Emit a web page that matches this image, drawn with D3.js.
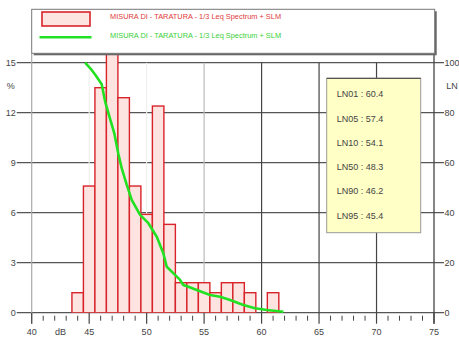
<!DOCTYPE html>
<html>
<head>
<meta charset="utf-8">
<script src="https://cdn.jsdelivr.net/npm/d3@7"></script>
<style>
    html, body { margin: 0; padding: 0; background: #fff; }
    svg { display: block; font-family: 'Liberation Sans', Arial, sans-serif; }
    .lbl { fill: #444; font-size: 9px; }
</style>
</head>
<body>
<div id="chart"></div>
<script>
// Histogram of level classes (1 dB wide, centred on the value)
var binCenters = [44, 45, 46, 47, 48, 49, 50, 51, 52, 53, 54, 55, 56, 57, 58, 59, 60, 61];
var binPercent = [1.2, 7.6, 13.5, 21.2, 12.9, 7.6, 5.9, 12.4, 5.3, 1.8, 1.8, 1.8, 1.2, 1.8, 1.8, 1.2, 0, 1.2];

// Cumulative curve (percent of time level is exceeded)
var curveDb = [44.64, 45.22, 45.62, 46.09, 46.4, 46.85, 47.2, 47.54, 47.83, 48.27, 48.56, 48.7,
               49.43, 50.15, 50.88, 51.45, 51.75, 52.04, 52.47, 52.91, 53.19, 53.63, 54.36,
               55.52, 56.39, 57.26, 58.42, 59.43, 60.45, 61.9];
var curveLn = [100, 97.1, 94.6, 91.4, 84.2, 77, 71.5, 63.5, 57.8, 51.1, 47.1, 45.1,
               39.1, 35.8, 30.4, 23.8, 18.4, 17.1, 15.1, 13.1, 11.1, 10.4, 9.1,
               7.1, 6.4, 5.1, 3.1, 1.8, 1.1, 0.4];

// Statistical levels
var statLabels = ['LN01', 'LN05', 'LN10', 'LN50', 'LN90', 'LN95'];
var statValues = [60.4, 57.4, 54.1, 48.3, 46.2, 45.4];

// Ticks
var xTicks     = [40, 45, 50, 55, 60, 65, 70, 75];
var leftTicks  = [0, 3, 6, 9, 12, 15];
var rightTicks = [0, 20, 40, 60, 80, 100];

var legendLabels = [
    'MISURA DI - TARATURA - 1/3 Leq Spectrum + SLM',
    'MISURA DI - TARATURA - 1/3 Leq Spectrum + SLM'
];

var W = 459, H = 342,
    margin = { top: 62.7, right: 25, bottom: 29.3, left: 31.7 },
    width  = W - margin.left - margin.right,
    height = H - margin.top - margin.bottom;

var x  = d3.scaleLinear().domain([40, 75]).range([0, width]),
    y  = d3.scaleLinear().domain([0, 15]).range([height, 0]),
    y2 = d3.scaleLinear().domain([0, 100]).range([height, 0]);

var svg = d3.select('#chart')
    .append('svg')
        .attr('width', W)
        .attr('height', H);

var chart = svg.append('g')
    .attr('transform', 'translate(' + margin.left + ',' + margin.top + ')');

// clip area reaches up to the legend box
chart.append('clipPath')
    .attr('id', 'plotclip')
  .append('rect')
    .attr('x', 0)
    .attr('y', -9.5)
    .attr('width', width)
    .attr('height', height + 9.5);

/*
 * GRID
 */
chart.selectAll('.hgrid')
    .data(leftTicks)
  .enter().append('line')
    .attr('class', 'hgrid')
    .attr('x1', -15)
    .attr('x2', width + 10)
    .attr('y1', function (d) { return y(d); })
    .attr('y2', function (d) { return y(d); })
    .attr('stroke', '#555')
    .attr('stroke-width', 1.3);

chart.selectAll('.vgrid')
    .data(xTicks.filter(function (d) { return d > 40 && d < 75; }))
  .enter().append('line')
    .attr('class', 'vgrid')
    .attr('x1', function (d) { return x(d); })
    .attr('x2', function (d) { return x(d); })
    .attr('y1', 0)
    .attr('y2', height)
    .attr('stroke', function (d) { return d < 55 ? '#f0f0f0' : (d === 55 ? '#bbb' : '#444'); })
    .attr('stroke-width', 1.2);

// axis verticals (run up to the legend box)
chart.append('line')
    .attr('x1', 0).attr('x2', 0)
    .attr('y1', -9.5).attr('y2', height + 11)
    .attr('stroke', '#aaa')
    .attr('stroke-width', 1.2);

chart.append('line')
    .attr('x1', width).attr('x2', width)
    .attr('y1', -9.5).attr('y2', height + 11)
    .attr('stroke', '#444')
    .attr('stroke-width', 1.3);

/*
 * BARS
 */
chart.append('g')
    .attr('clip-path', 'url(#plotclip)')
    .selectAll('.bar')
    .data(binCenters.map(function (c, i) { return { c: c, v: binPercent[i] }; })
                    .filter(function (d) { return d.v > 0; }))
  .enter().append('rect')
    .attr('class', 'bar')
    .attr('x', function (d) { return x(d.c - 0.5); })
    .attr('y', function (d) { return y(d.v); })
    .attr('width', function (d) { return x(d.c + 0.5) - x(d.c - 0.5); })
    .attr('height', function (d) { return height - y(d.v); })
    .attr('fill', '#fde4e0')
    .attr('stroke', '#d8232a')
    .attr('stroke-width', 1.4);

// CUMULATIVE CURVE
var line = d3.line()
    .x(function (d) { return x(d[0]); })
    .y(function (d) { return y2(d[1]); });

chart.append('path')
    .attr('d', line(curveDb.map(function (d, i) { return [d, curveLn[i]]; })))
    .attr('fill', 'none')
    .attr('stroke', '#22e022')
    .attr('stroke-width', 2.6)
    .attr('stroke-linejoin', 'round');

/*
 * X AXIS TICKS
 */
var minorTicks = d3.range(41, 75).filter(function (d) { return d % 5 !== 0; });

chart.selectAll('.minor')
    .data(minorTicks)
  .enter().append('line')
    .attr('x1', function (d) { return x(d); })
    .attr('x2', function (d) { return x(d); })
    .attr('y1', height + 3)
    .attr('y2', height + 8)
    .attr('stroke', '#444')
    .attr('stroke-width', 1);

chart.selectAll('.major')
    .data(xTicks)
  .enter().append('line')
    .attr('x1', function (d) { return x(d); })
    .attr('x2', function (d) { return x(d); })
    .attr('y1', height)
    .attr('y2', height + 11)
    .attr('stroke', '#444')
    .attr('stroke-width', 1.2);

chart.selectAll('.xlab')
    .data(xTicks)
  .enter().append('text')
    .attr('class', 'lbl')
    .attr('x', function (d) { return x(d); })
    .attr('y', height + 22)
    .attr('text-anchor', 'middle')
    .text(function (d) { return d; });

chart.append('text')
    .attr('class', 'lbl')
    .attr('x', x(42.5))
    .attr('y', height + 22)
    .attr('text-anchor', 'middle')
    .text('dB');

// Y LABELS
chart.selectAll('.ylab')
    .data(leftTicks)
  .enter().append('text')
    .attr('class', 'lbl')
    .attr('x', -16)
    .attr('y', function (d) { return y(d) + 3; })
    .attr('text-anchor', 'end')
    .text(function (d) { return d; });

chart.append('text')
    .attr('class', 'lbl')
    .attr('x', -21)
    .attr('y', y(13.6) + 3)
    .attr('text-anchor', 'middle')
    .text('%');

chart.selectAll('.y2lab')
    .data(rightTicks)
  .enter().append('text')
    .attr('class', 'lbl')
    .attr('x', width + 10.5)
    .attr('y', function (d) { return y2(d) + 3; })
    .attr('font-size', '8px')
    .text(function (d) { return d; });

chart.append('text')
    .attr('class', 'lbl')
    .attr('x', width + 18)
    .attr('y', y(13.6) + 3)
    .attr('text-anchor', 'middle')
    .text('LN');

/*
 * STATS BOX
 */
var box = chart.append('g')
    .attr('transform', 'translate(' + (326.7 - margin.left) + ',' + (78.3 - margin.top) + ')');

box.append('rect')
    .attr('width', 94)
    .attr('height', 154.4)
    .attr('fill', '#ffffc6')
    .attr('stroke', '#999')
    .attr('stroke-width', 1);

box.append('line')
    .attr('x1', 0).attr('x2', 94)
    .attr('y1', 0).attr('y2', 0)
    .attr('stroke', '#555')
    .attr('stroke-width', 1.3);

box.selectAll('.stat')
    .data(statLabels)
  .enter().append('text')
    .attr('class', 'lbl')
    .attr('x', 10)
    .attr('y', function (d, i) { return 19 + i * 24.3; })
    .text(function (d, i) { return d + ' : ' + statValues[i].toFixed(1); });

/*
 * LEGEND
 */
var legend = svg.append('g');

legend.append('rect')
    .attr('x', 33.7).attr('y', 11.3)
    .attr('width', 403).attr('height', 44)
    .attr('fill', '#666');

legend.append('rect')
    .attr('x', 31.7).attr('y', 9.3)
    .attr('width', 403).attr('height', 44)
    .attr('fill', '#fff')
    .attr('stroke', '#777')
    .attr('stroke-width', 1);

legend.append('rect')
    .attr('x', 42).attr('y', 12)
    .attr('width', 48).attr('height', 14)
    .attr('fill', '#fde4e0')
    .attr('stroke', '#d8232a')
    .attr('stroke-width', 1.6);

legend.append('line')
    .attr('x1', 39.5).attr('x2', 91.5)
    .attr('y1', 37.3).attr('y2', 37.3)
    .attr('stroke', '#22e022')
    .attr('stroke-width', 2.4);

legend.selectAll('.legtext')
    .data(legendLabels)
  .enter().append('text')
    .attr('x', 110)
    .attr('y', function (d, i) { return 18.5 + i * 19; })
    .attr('font-size', '7.4px')
    .attr('fill', function (d, i) { return i === 0 ? '#e03a3a' : '#3ad03a'; })
    .text(function (d) { return d; });
</script>
</body>
</html>
